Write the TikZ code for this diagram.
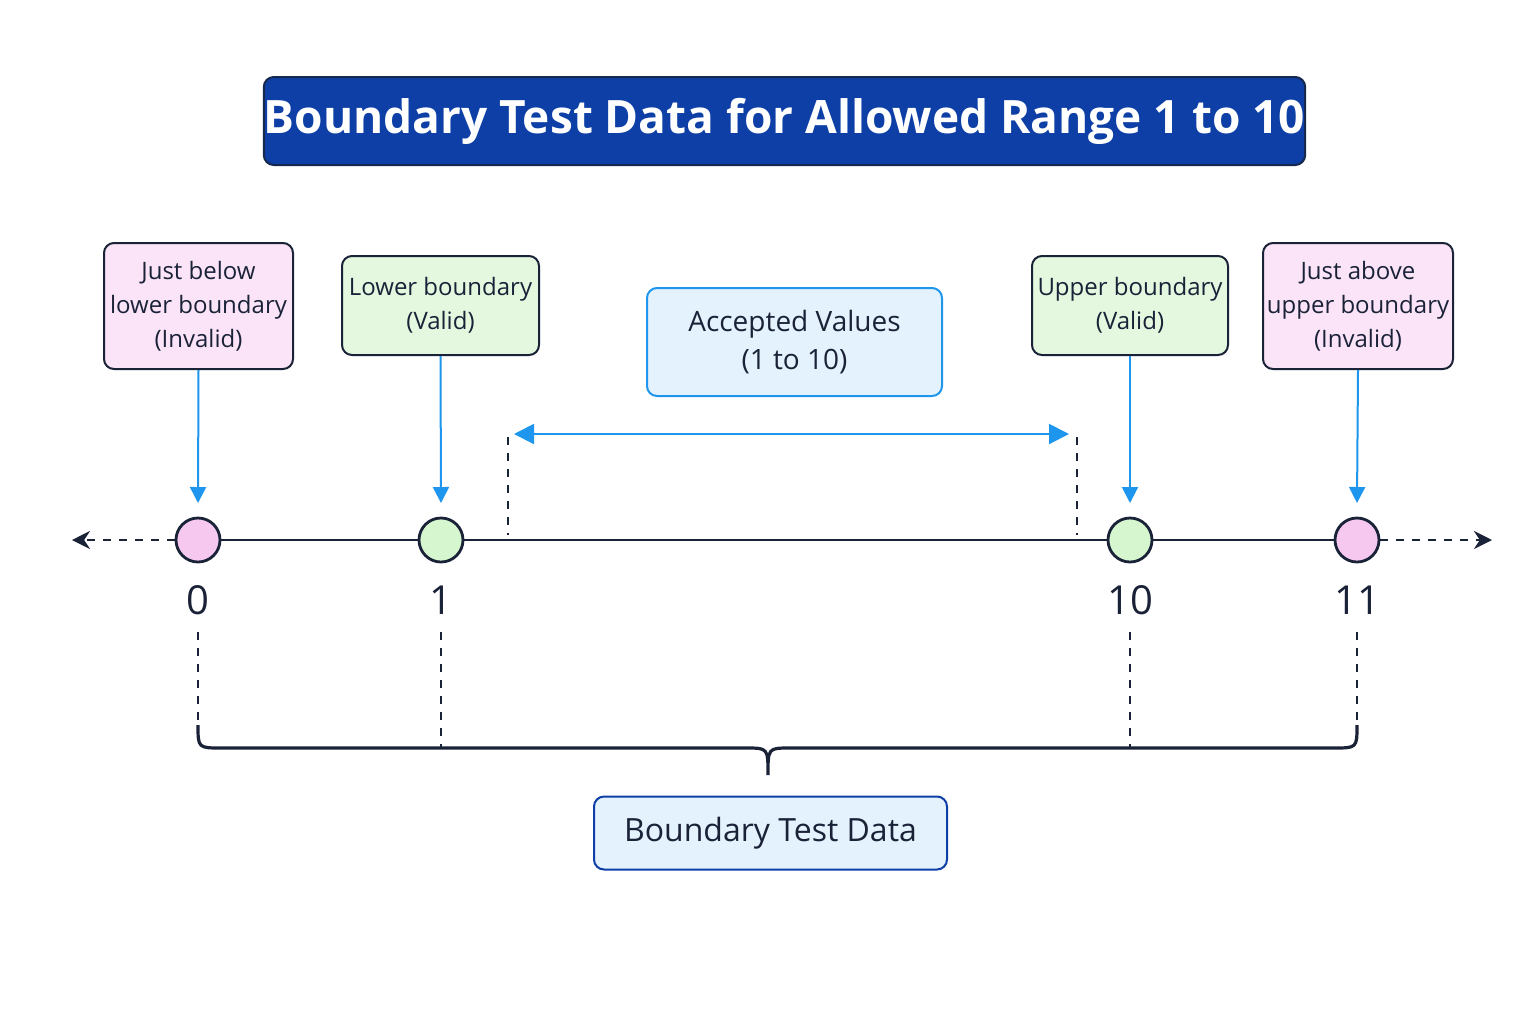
\documentclass[tikz,border=0pt]{standalone}
\usepackage{fontspec}
\setmainfont{Open Sans}
\usetikzlibrary{arrows.meta}
\definecolor{ink}{HTML}{1A2238}
\definecolor{tblue}{HTML}{0D3FA6}
\definecolor{pinkf}{HTML}{FBE4F8}
\definecolor{greenf}{HTML}{E3F8DE}
\definecolor{bluef}{HTML}{E4F2FD}
\definecolor{arr}{HTML}{1E96EE}
\definecolor{dotp}{HTML}{F6C8F0}
\definecolor{dotg}{HTML}{D6F6CF}
\begin{document}
\begin{tikzpicture}[x=0.5pt,y=-0.5pt,
 box/.style={draw=ink,line width=1pt,rounded corners=5pt,align=center,inner sep=0pt,font=\fontsize{12}{17}\selectfont,text=ink},
 pt/.style={circle,draw=ink,line width=1.4pt,minimum size=22pt,inner sep=0pt},
 down/.style={arr,line width=1pt,-{Triangle[length=8pt,width=8pt]}},
 num/.style={font=\fontsize{20}{24}\selectfont,text=ink},
 dsh/.style={ink,line width=0.9pt,dash pattern=on 4pt off 4pt}]
\useasboundingbox (0,0) rectangle (1536,1024);
\fill[white] (0,0) rectangle (1536,1024);
% title
\node[box,draw=ink!80!tblue,fill=tblue,minimum width=498.5pt,minimum height=44pt,text=white,font=\bfseries\fontsize{23}{28}\selectfont] (title) at (784.5,121) {Boundary Test Data for Allowed Range 1 to 10};
% boxes
\node[box,fill=pinkf,minimum width=94.5pt,minimum height=63pt] (b0) at (198.5,306) {Just below\\lower boundary\\(Invalid)};
\node[box,fill=greenf,minimum width=98.5pt,minimum height=49.5pt] (b1) at (440.5,305.5) {Lower boundary\\(Valid)};
\node[box,fill=bluef,draw=arr,minimum width=147.5pt,minimum height=54pt,font=\fontsize{14}{19}\selectfont] (acc) at (794.5,342) {Accepted Values\\(1 to 10)};
\node[box,fill=greenf,minimum width=98pt,minimum height=49.5pt] (b10) at (1130,305.5) {Upper boundary\\(Valid)};
\node[box,fill=pinkf,minimum width=95pt,minimum height=63pt] (b11) at (1358,306) {Just above\\upper boundary\\(Invalid)};
% axis
\coordinate (L) at (72,540); \coordinate (R) at (1492,540);
\node[pt,fill=dotp] (p0) at (198,540) {};
\node[pt,fill=dotg] (p1) at (441,540) {};
\node[pt,fill=dotg] (p10) at (1130,540) {};
\node[pt,fill=dotp] (p11) at (1357,540) {};
\draw[ink,line width=1.4pt] (p0) -- (p1) -- (p10) -- (p11);
\draw[dsh,line width=1.4pt,-{Stealth[length=9pt,width=9pt]}] (p0) -- (L);
\draw[dsh,line width=1.4pt,-{Stealth[length=9pt,width=9pt]}] (p11) -- (R);
% arrows down
\draw[down] (b0.south) -- (198,503);
\draw[down] (b1.south) -- (441,503);
\draw[down] (b10.south) -- (1130,503);
\draw[down] (b11.south) -- (1357,503);
% accepted range
\coordinate (a1) at (508,437); \coordinate (a2) at (508,535);
\coordinate (c1) at (1077,437); \coordinate (c2) at (1077,535);
\draw[dsh] (a1) -- (a2); \draw[dsh] (c1) -- (c2);
\coordinate (d1) at (514,434); \coordinate (d2) at (1069,434);
\draw[arr,line width=1pt,{Triangle[length=10pt,width=10pt]}-{Triangle[length=10pt,width=10pt]}] (d1) -- (d2);
% numbers
\node[num] (n0) at (198,600) {0};
\node[num] (n1) at (441,600) {1};
\node[num] (n10) at (1130,600) {10};
\node[num] (n11) at (1357,600) {11};
% brace
\coordinate (e0) at (198,748); \coordinate (e1) at (441,748); \coordinate (e10) at (1130,748); \coordinate (e11) at (1357,748);
\draw[dsh] (n0) ++(0,32) -- (198,725);
\draw[dsh] (n1) ++(0,32) -- (e1);
\draw[dsh] (n10) ++(0,32) -- (e10);
\draw[dsh] (n11) ++(0,32) -- (1357,725);
\draw[ink,line width=1.6pt,rounded corners=0pt] (198,725) .. controls (198,748) .. (222,748) -- (746,748) .. controls (768,748) .. (768,775) .. controls (768,748) .. (790,748) -- (1333,748) .. controls (1357,748) .. (1357,725);
% bottom box
\node[box,draw=tblue,fill=bluef,minimum width=176.5pt,minimum height=36.5pt,font=\fontsize{16}{20}\selectfont] (btd) at (770.5,833) {Boundary Test Data};
\end{tikzpicture}
\end{document}
